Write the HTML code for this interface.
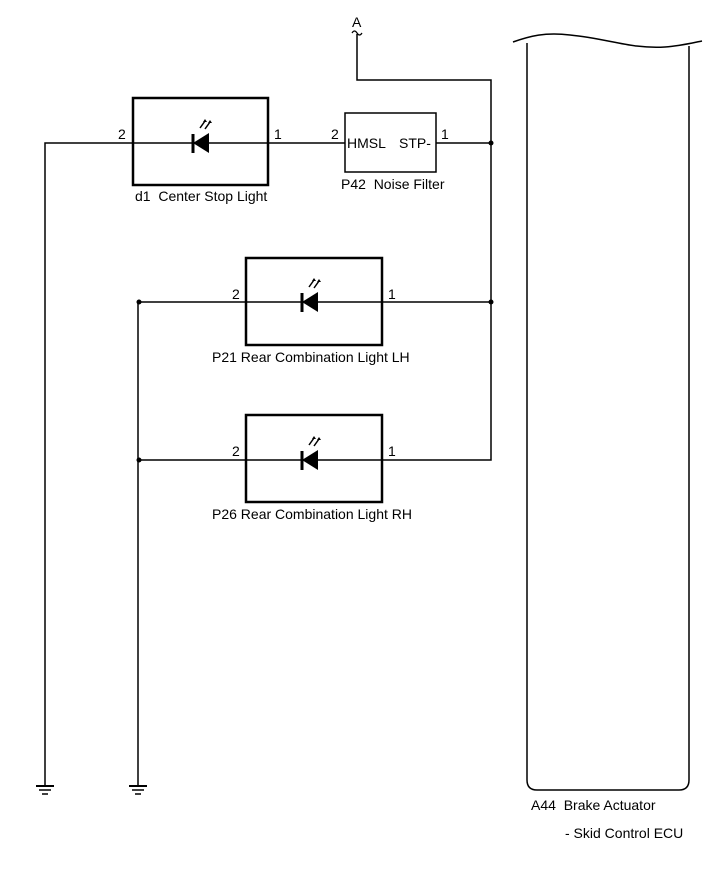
<!DOCTYPE html>
<html><head><meta charset="utf-8"><style>
html,body{margin:0;padding:0;background:#fff}
svg{display:block}
text{font-family:"Liberation Sans",Arial,sans-serif;font-size:14px;fill:#000;white-space:pre}
</style></head><body>
<svg width="713" height="882" viewBox="0 0 713 882" xmlns="http://www.w3.org/2000/svg">
<defs>
<g id="led">
  <line x1="-8" y1="-9" x2="-8" y2="10" stroke="#000" stroke-width="3"/>
  <polygon points="-8,0 8,-10 8,10" fill="#000"/>
  <line x1="-1" y1="-15" x2="4" y2="-22" stroke="#000" stroke-width="1.5"/>
  <line x1="4" y1="-14" x2="9" y2="-21" stroke="#000" stroke-width="1.5"/>
  <polygon points="4,-24 6,-21 2,-21" fill="#000"/>
  <polygon points="9,-23 11,-20 7,-20" fill="#000"/>
</g>
<g id="gnd">
  <line x1="-9" y1="0" x2="9" y2="0" stroke="#000" stroke-width="2"/>
  <line x1="-6" y1="4" x2="6" y2="4" stroke="#000" stroke-width="1.5"/>
  <line x1="-3" y1="8" x2="3" y2="8" stroke="#000" stroke-width="1.5"/>
</g>
</defs>
<g fill="none" stroke="#000" stroke-width="1.5">
  <polyline points="45,785 45,143 345,143"/>
  <line x1="436" y1="143" x2="491" y2="143"/>
  <polyline points="357,34 357,80 491,80 491,460 138,460"/>
  <polyline points="138,785 138,302 491,302"/>
  <path d="M527,43 L527,780 Q527,790 537,790 L679,790 Q689,790 689,780 L689,46"/>
  <path d="M513,42 C530,36 545,32 570,35 C610,39 630,49 665,47 C680,46 692,43 702,41"/>
  <path d="M352,33 q2.5,-4 5,0 t5,0" stroke-width="1.2"/>
</g>
<g fill="none" stroke="#000" stroke-width="2.5">
  <rect x="133" y="98" width="135" height="87"/>
  <rect x="246" y="258" width="136" height="87"/>
  <rect x="246" y="415" width="136" height="87"/>
</g>
<rect x="345" y="113" width="91" height="59" fill="none" stroke="#000" stroke-width="1.5"/>
<use href="#led" x="201" y="143"/>
<use href="#led" x="310" y="302"/>
<use href="#led" x="310" y="460"/>
<use href="#gnd" x="45" y="786"/>
<use href="#gnd" x="138" y="786"/>
<circle cx="491" cy="143" r="2.5" fill="#000"/>
<circle cx="491" cy="302" r="2.5" fill="#000"/>
<circle cx="139" cy="302" r="2.5" fill="#000"/>
<circle cx="139" cy="460" r="2.5" fill="#000"/>
<text x="352" y="27">A</text>
<text x="118" y="139">2</text>
<text x="274" y="139">1</text>
<text x="331" y="139">2</text>
<text x="441" y="139">1</text>
<text x="347" y="148">HMSL</text>
<text x="399" y="148">STP-</text>
<text x="341" y="189">P42  Noise Filter</text>
<text x="135" y="201">d1  Center Stop Light</text>
<text x="232" y="299">2</text>
<text x="388" y="299">1</text>
<text x="232" y="456">2</text>
<text x="388" y="456">1</text>
<text x="212" y="362">P21 Rear Combination Light LH</text>
<text x="212" y="519">P26 Rear Combination Light RH</text>
<text x="531" y="810">A44  Brake Actuator</text>
<text x="565" y="838">- Skid Control ECU</text>
</svg>
</body></html>
